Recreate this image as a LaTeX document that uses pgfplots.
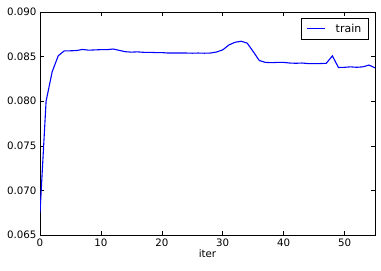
\documentclass[border=0pt]{standalone}
\usepackage{fontspec}
\setmainfont{DejaVu Sans}
\usepackage{pgfplots}
\pgfplotsset{compat=1.18}
\definecolor{mplblue}{rgb}{0,0,1}
\begin{document}
\begin{tikzpicture}
\begin{axis}[
  at={(0,0)}, anchor=south west,
  scale only axis, width=335bp, height=223bp,
  xmin=0, xmax=55, ymin=0.065, ymax=0.090,
  xtick={0,10,20,30,40,50},
  ytick={0.065,0.070,0.075,0.080,0.085,0.090},
  scaled y ticks=false,
  tick align=inside, major tick length=4bp,
  tick style={black, line width=0.6bp},
  axis line style={black, line width=0.9bp},
  yticklabel style={/pgf/number format/fixed, /pgf/number format/fixed zerofill, /pgf/number format/precision=3},
  /pgf/number format/assume math mode=true,
  ticklabel style={font=\fontsize{10.3}{12}\selectfont},
  xlabel={iter}, xlabel style={font=\fontsize{10.3}{12}\selectfont, yshift=3bp},
  legend style={at={(0.981,0.971)}, anchor=north east, draw=black, line width=0.8bp,
    font=\fontsize{11}{12}\selectfont, inner xsep=5bp, inner ysep=3.5bp},
  legend cell align=left,
]
\addplot[color=mplblue, line width=1.1bp, mark=none,
  legend image code/.code={\draw[mplblue, line width=1.3bp] (0bp,0.5bp) -- (18bp,0.5bp);}] coordinates {
(0,0.0675) (1,0.0800) (2,0.0833) (3,0.0851) (4,0.08565) (5,0.08565) (6,0.08568)
(7,0.0858) (8,0.08572) (9,0.08575) (10,0.08578) (11,0.08578) (12,0.08585) (13,0.0857)
(14,0.08555) (15,0.0855) (16,0.08553) (17,0.08548) (18,0.08548) (19,0.08545) (20,0.08545)
(21,0.0854) (22,0.0854) (23,0.0854) (24,0.0854) (25,0.08538) (26,0.0854) (27,0.08538)
(28,0.0854) (29,0.08552) (30,0.08575) (31,0.0863) (32,0.0866) (33,0.08672) (34,0.08652)
(35,0.08557) (36,0.08456) (37,0.08435) (38,0.08432) (39,0.08435) (40,0.08435) (41,0.08428)
(42,0.08425) (43,0.08428) (44,0.08422) (45,0.08422) (46,0.08422) (47,0.08425) (48,0.08508)
(49,0.08378) (50,0.0838) (51,0.08385) (52,0.0838) (53,0.08385) (54,0.08405) (55,0.08375)
};
\addlegendentry{\hspace{8bp}train}
\end{axis}
\path[use as bounding box] (-40bp,-36bp) rectangle (341bp,235bp);
\end{tikzpicture}
\end{document}
